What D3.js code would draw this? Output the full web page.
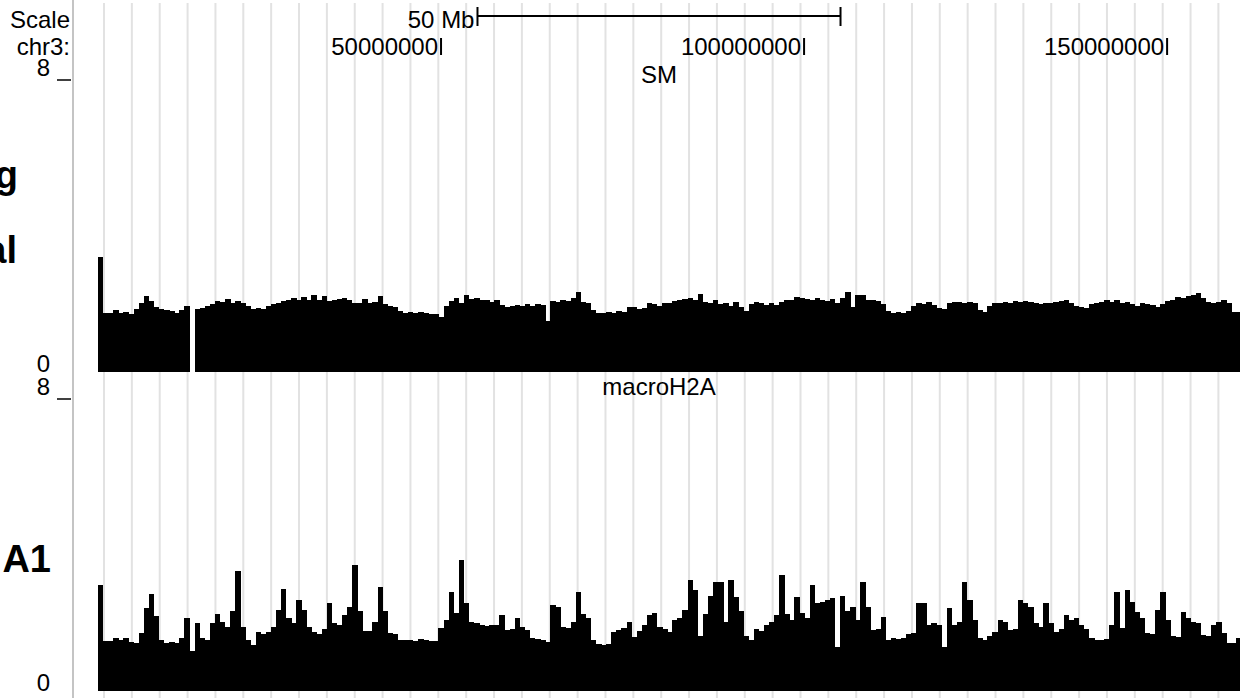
<!DOCTYPE html>
<html>
<head>
<meta charset='utf-8'>
<title>chr3 tracks</title>
<style>
  body { margin: 0; background: #fff; }
  text { font-family: 'Liberation Sans', Arial, sans-serif; }
</style>
<script src='https://d3js.org/d3.v7.min.js'></script>
</head>
<body>
<div id="container"></div>
<script>
// ******* Data *******
const chromName = "chr3";
const chromEnd = 160039680;
const binStart = 2750000,
      binSize = 700000;
const trackNames = ["SM", "macroH2A"];
const sideLabels = ["g", "al", "A1"];
const yMax = 8;
const tickValues = [50000000, 100000000, 150000000];
const scaleBarLabel = "50 Mb";
const scaleBarSize = 50000000;

const smValues = [
  3.15,1.62,1.62,1.70,1.62,1.64,1.60,1.72,1.90,2.08,
  1.95,1.78,1.72,1.70,1.66,1.62,1.70,1.80,0,1.72,
  1.75,1.80,1.86,1.95,1.92,2.00,1.90,1.95,1.88,1.80,
  1.72,1.75,1.72,1.82,1.86,1.90,1.94,1.98,2.03,1.96,
  2.05,1.98,2.10,1.97,2.08,1.95,1.97,2.00,2.02,1.96,
  1.90,1.88,2.00,1.90,1.92,2.08,1.85,1.80,1.78,1.68,
  1.62,1.64,1.62,1.64,1.62,1.60,1.58,1.52,1.80,1.95,
  2.02,1.90,2.10,2.00,2.02,1.98,1.96,1.92,1.98,1.84,
  1.78,1.80,1.84,1.82,1.86,1.80,1.86,1.84,1.40,1.95,
  1.92,1.98,1.94,2.02,2.18,1.92,1.88,1.70,1.62,1.62,
  1.64,1.62,1.66,1.64,1.78,1.78,1.72,1.75,1.90,1.86,
  1.80,1.88,1.90,1.95,1.96,2.00,2.02,1.98,2.15,1.92,
  1.88,1.98,1.85,1.88,1.80,1.92,1.78,1.68,1.86,1.92,
  1.88,1.84,1.90,1.84,1.92,1.98,1.96,2.05,2.02,2.00,
  1.96,2.02,1.98,1.94,2.00,1.88,2.04,2.20,1.78,2.10,
  2.12,1.96,1.98,1.95,1.86,1.66,1.62,1.64,1.62,1.68,
  1.80,1.90,1.86,1.92,1.84,1.76,1.72,1.90,1.92,1.92,
  1.90,1.92,1.88,1.70,1.64,1.82,1.88,1.88,1.92,1.90,
  1.94,1.92,1.95,1.92,1.90,1.86,1.88,1.90,1.92,1.95,
  1.98,1.88,1.80,1.78,1.76,1.86,1.90,1.92,1.98,1.92,
  1.96,1.90,1.92,1.86,1.82,1.90,1.86,1.84,1.78,1.86,
  1.94,1.98,2.05,2.02,2.08,2.12,2.16,2.04,1.92,1.90,
  1.92,1.98,1.88,1.64,1.64
];

const macroValues = [
  2.90,1.37,1.37,1.45,1.40,1.45,1.35,1.32,1.60,2.27,
  2.65,2.05,1.40,1.32,1.35,1.32,1.45,2.00,1.10,1.85,
  1.45,1.40,1.85,2.10,1.90,1.75,2.20,3.29,1.75,1.40,
  1.26,1.62,1.55,1.62,1.75,2.22,2.80,2.00,1.86,2.49,
  2.22,1.75,1.62,1.55,1.70,2.41,1.86,1.80,2.08,2.30,
  3.45,2.20,1.64,1.64,1.90,2.85,2.20,1.60,1.55,1.40,
  1.40,1.40,1.38,1.42,1.40,1.36,1.38,1.73,1.95,2.71,
  2.14,3.59,2.41,1.90,1.86,1.81,1.78,1.80,1.82,2.08,
  1.67,1.70,2.00,1.75,1.68,1.45,1.42,1.40,1.35,2.36,
  2.30,1.75,1.73,1.90,2.70,2.10,2.00,1.40,1.29,1.27,
  1.30,1.62,1.67,1.72,1.89,1.48,1.65,1.81,2.08,2.15,
  1.75,1.70,1.62,1.95,2.00,2.22,3.04,2.77,1.50,2.10,
  2.60,2.99,2.99,1.89,3.04,2.58,2.20,1.50,1.40,1.70,
  1.65,1.80,1.90,2.08,3.18,2.10,1.95,2.58,2.15,2.00,
  2.90,2.40,2.45,2.50,2.55,1.21,2.60,2.20,2.30,1.95,
  2.99,2.30,1.67,1.70,2.03,1.40,1.45,1.42,1.45,1.55,
  1.60,2.41,2.41,1.81,1.85,1.80,1.21,2.27,1.81,1.90,
  2.99,2.50,1.95,1.45,1.40,1.50,1.62,1.95,1.90,1.67,
  1.70,2.50,2.40,2.30,1.86,1.75,2.40,1.85,1.62,1.70,
  2.08,1.95,2.00,1.81,1.70,1.45,1.40,1.40,1.42,1.81,
  2.71,1.73,2.77,2.44,2.16,2.00,1.59,1.55,2.22,2.71,
  1.95,1.51,1.48,2.16,2.00,1.90,1.86,1.53,1.50,1.81,
  1.89,1.59,1.32,1.32,1.45
];

// ******* Layout *******
const width = 1249,
      height = 698,
      fontsize = 24;

const tracks = [
  {name: trackNames[0], values: smValues, top: 80, bottom: 372, labelY: 83},
  {name: trackNames[1], values: macroValues, top: 399, bottom: 691, labelY: 395}
];

// ******* Scales *******
var x = d3.scaleLinear()
    .domain([0, chromEnd])
    .range([78, 1240]);

var svg = d3.select("#container").append("svg")
    .attr("width", width)
    .attr("height", height)
    .style("display", "block");

// guide lines behind everything
svg.selectAll("line.guide")
    .data(d3.range(104, 1245, 27.86))
    .enter()
    .append("line")
    .attr("class", "guide")
    .attr("x1", d => d).attr("x2", d => d)
    .attr("y1", 3).attr("y2", height)
    .attr("stroke", "#e2e2e2")
    .attr("stroke-width", 2);

// separator between labels and image
svg.append("line")
    .attr("x1", 73).attr("x2", 73)
    .attr("y1", 0).attr("y2", height)
    .attr("stroke", "#c4c4c4")
    .attr("stroke-width", 2);

// ******* Header: scale bar and position ticks *******
svg.append("text")
    .text("Scale")
    .attr("x", 70).attr("y", 28)
    .attr("text-anchor", "end")
    .attr("font-size", fontsize);
svg.append("text")
    .text(chromName + ":")
    .attr("x", 70).attr("y", 55)
    .attr("text-anchor", "end")
    .attr("font-size", fontsize);

const mid = (x.range()[0] + x.range()[1]) / 2;
const barLen = x(scaleBarSize) - x(0);
const bx1 = mid - barLen / 2, bx2 = mid + barLen / 2;
var bar = svg.append("g").attr("stroke", "#000").attr("stroke-width", 2);
bar.append("line").attr("x1", bx1).attr("x2", bx2).attr("y1", 16).attr("y2", 16);
bar.append("line").attr("x1", bx1).attr("x2", bx1).attr("y1", 7).attr("y2", 26);
bar.append("line").attr("x1", bx2).attr("x2", bx2).attr("y1", 7).attr("y2", 26);
svg.append("text")
    .text(scaleBarLabel)
    .attr("x", bx1 - 3).attr("y", 28)
    .attr("text-anchor", "end")
    .attr("font-size", fontsize);

var ticks = svg.selectAll("g.tick")
    .data(tickValues)
    .enter()
    .append("g")
    .attr("class", "tick");
ticks.append("line")
    .attr("x1", d => x(d)).attr("x2", d => x(d))
    .attr("y1", 38).attr("y2", 55)
    .attr("stroke", "#000")
    .attr("stroke-width", 2);
ticks.append("text")
    .text(d => d3.format("d")(d))
    .attr("x", d => x(d) - 3)
    .attr("y", 55)
    .attr("text-anchor", "end")
    .attr("font-size", fontsize);

// ******* Tracks *******
tracks.forEach(function(t) {
  var y = d3.scaleLinear().domain([0, yMax]).range([t.bottom, t.top]);
  var g = svg.append("g");

  g.selectAll("rect")
      .data(t.values)
      .enter()
      .append("rect")
      .attr("x", (d, i) => x(binStart + i * binSize))
      .attr("width", (d, i) => x(Math.min(binStart + (i + 1) * binSize, chromEnd)) - x(binStart + i * binSize) + 0.4)
      .attr("y", d => y(d))
      .attr("height", d => y(0) - y(d))
      .attr("fill", "#000")
      .attr("shape-rendering", "crispEdges");

  // track title centred over the image
  g.append("text")
      .text(t.name)
      .attr("x", mid).attr("y", t.labelY)
      .attr("text-anchor", "middle")
      .attr("font-size", fontsize);

  // vertical range labels
  g.append("text")
      .text(yMax)
      .attr("x", 50).attr("y", y(yMax) - 4)
      .attr("text-anchor", "end")
      .attr("font-size", fontsize);
  g.append("line")
      .attr("x1", 57).attr("x2", 71)
      .attr("y1", y(yMax)).attr("y2", y(yMax))
      .attr("stroke", "#000")
      .attr("stroke-width", 1.5);
  g.append("text")
      .text(0)
      .attr("x", 50).attr("y", y(0))
      .attr("text-anchor", "end")
      .attr("font-size", fontsize);
});

// clipped left-hand labels
var side = [
  {t: sideLabels[0], x: 18, y: 188},
  {t: sideLabels[1], x: 17, y: 263},
  {t: sideLabels[2], x: 51, y: 572}
];
svg.selectAll("text.side")
    .data(side)
    .enter()
    .append("text")
    .attr("class", "side")
    .text(d => d.t)
    .attr("x", d => d.x).attr("y", d => d.y)
    .attr("text-anchor", "end")
    .attr("font-size", 38)
    .attr("font-weight", "bold");
</script>
</body>
</html>
